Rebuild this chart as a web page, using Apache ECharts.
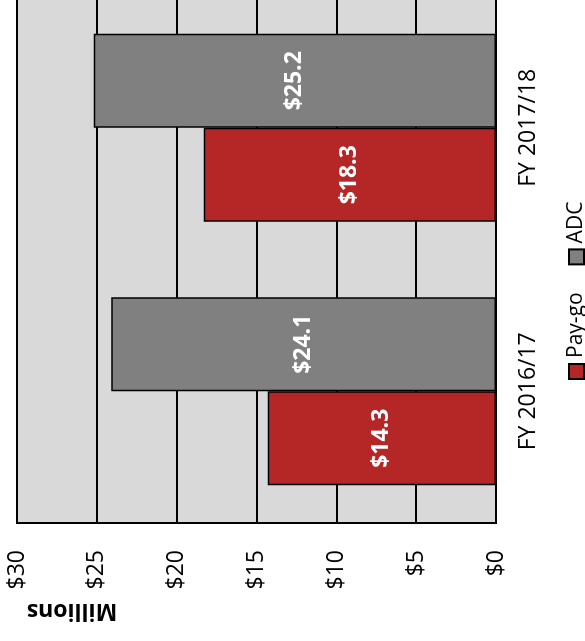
<!DOCTYPE html>
<html>
<head>
<meta charset="utf-8">
<script src="https://cdn.jsdelivr.net/npm/echarts@6/dist/echarts.min.js"></script>
<style>
  html, body { margin: 0; padding: 0; width: 585px; height: 641px; overflow: hidden; background: #fff; }
  /* The column chart is laid out upright, then turned a quarter turn counter-clockwise. */
  #chart {
    position: absolute; left: 0; top: 0;
    width: 660px; height: 585px;
    transform-origin: 0 0;
    transform: translate(0, 641px) rotate(-90deg);
  }
</style>
</head>
<body>
<div id="chart"></div>
<script>
// Fiscal years shown on the category axis
const categories = ['FY 2016/17', 'FY 2017/18'];
// Funding in millions of dollars
const payGo = [14.3, 18.3];
const adc = [24.1, 25.2];
// Value axis range and step
const axisMin = 0;
const axisMax = 30;
const axisStep = 5;

const FONT = '"Open Sans", "Noto Sans", sans-serif';
const chart = echarts.init(document.getElementById('chart'), null, { renderer: 'canvas' });

const labelStyle = {
  show: true,
  position: 'inside',
  color: '#ffffff',
  fontFamily: FONT,
  fontWeight: 'bold',
  fontSize: 23,
  formatter: p => '$' + p.value.toFixed(1)
};

chart.setOption({
  animation: false,
  backgroundColor: '#ffffff',
  textStyle: { fontFamily: FONT },
  grid: {
    left: 118, right: 15, top: 17, bottom: 89,
    show: true,
    backgroundColor: '#d9d9d9',
    borderColor: '#000000',
    borderWidth: 2
  },
  legend: {
    data: ['Pay-go', 'ADC'],
    left: 256, top: 561,
    itemWidth: 15, itemHeight: 15, itemGap: 27,
    icon: 'rect',
    textStyle: { fontFamily: FONT, fontSize: 21, color: '#000000', padding: [0, 0, 0, 1] }
  },
  graphic: [{
    type: 'text',
    x: 30, y: 72,
    rotation: Math.PI / 2,
    style: {
      text: 'Millions',
      font: 'bold 23px ' + FONT,
      fill: '#000000',
      align: 'center',
      verticalAlign: 'middle'
    }
  }],
  xAxis: {
    type: 'category',
    data: categories,
    axisLine: { show: false },
    axisTick: { show: false },
    axisLabel: { color: '#000000', fontSize: 23, fontFamily: FONT, margin: 21 }
  },
  yAxis: {
    type: 'value',
    min: axisMin, max: axisMax, interval: axisStep,
    axisLine: { show: false },
    axisTick: { show: false },
    splitLine: { show: true, lineStyle: { color: '#000000', width: 2 } },
    axisLabel: { color: '#000000', fontSize: 23, fontFamily: FONT, margin: 27, formatter: v => '$' + v }
  },
  series: [
    {
      name: 'Pay-go', type: 'bar', data: payGo,
      barWidth: 94, barGap: '0%',
      itemStyle: { color: '#b52626', borderColor: '#000000', borderWidth: 1.5 },
      label: labelStyle
    },
    {
      name: 'ADC', type: 'bar', data: adc,
      barWidth: 94, barGap: '0%',
      itemStyle: { color: '#808080', borderColor: '#000000', borderWidth: 1.5 },
      label: labelStyle
    }
  ]
});
</script>
</body>
</html>
